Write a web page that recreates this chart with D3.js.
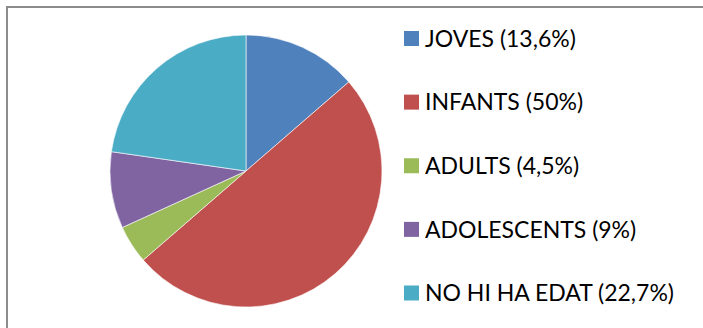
<!DOCTYPE html>
<html>
<head>
<meta charset="utf-8">
<script src="https://cdn.jsdelivr.net/npm/d3@7"></script>
<style>
  body { margin: 0; background: #fff; }
  svg { display: block; }
</style>
</head>
<body>
<script>
// chart data
var labels = ["JOVES (13,6%)", "INFANTS (50%)", "ADULTS (4,5%)", "ADOLESCENTS (9%)", "NO HI HA EDAT (22,7%)"];
var values = [3, 11, 1, 2, 5];
var colors = ["#4F81BD", "#C0504D", "#9BBB59", "#8064A2", "#4BACC6"];

var width = 703, height = 328;

var svg = d3.select("body")
            .append("svg")
            .attr("width", width)
            .attr("height", height);

// frame (only top + left visible in the crop)
svg.append("path")
   .attr("d", "M7," + height + "V7H" + width)
   .attr("fill", "none")
   .attr("stroke", "#8c8c8c")
   .attr("stroke-width", 2);

var radius = 136;
var pie = d3.pie().sort(null);
var arc = d3.arc().innerRadius(0).outerRadius(radius);

var g = svg.append("g")
           .attr("transform", "translate(246,171)");

g.selectAll("path")
 .data(pie(values))
 .enter()
 .append("path")
 .attr("d", arc)
 .attr("fill", function(d, i) { return colors[i]; })
 .attr("stroke", "#fff")
 .attr("stroke-width", 0.6);

// legend
var yScale = d3.scalePoint()
               .domain(labels)
               .range([38.5, 293]);

var legend = svg.selectAll(".legend")
                .data(labels)
                .enter()
                .append("g")
                .attr("transform", function(d) { return "translate(404," + yScale(d) + ")"; });

legend.append("rect")
      .attr("x", 0)
      .attr("y", -7.5)
      .attr("width", 15)
      .attr("height", 15)
      .attr("fill", function(d, i) { return colors[i]; });

legend.append("text")
      .attr("x", 21)
      .attr("y", 0)
      .attr("dy", "0.36em")
      .attr("font-family", "Lato, 'Open Sans', sans-serif")
      .attr("font-size", "23px")
      .attr("fill", "#000")
      .text(function(d) { return d; });
</script>
</body>
</html>
